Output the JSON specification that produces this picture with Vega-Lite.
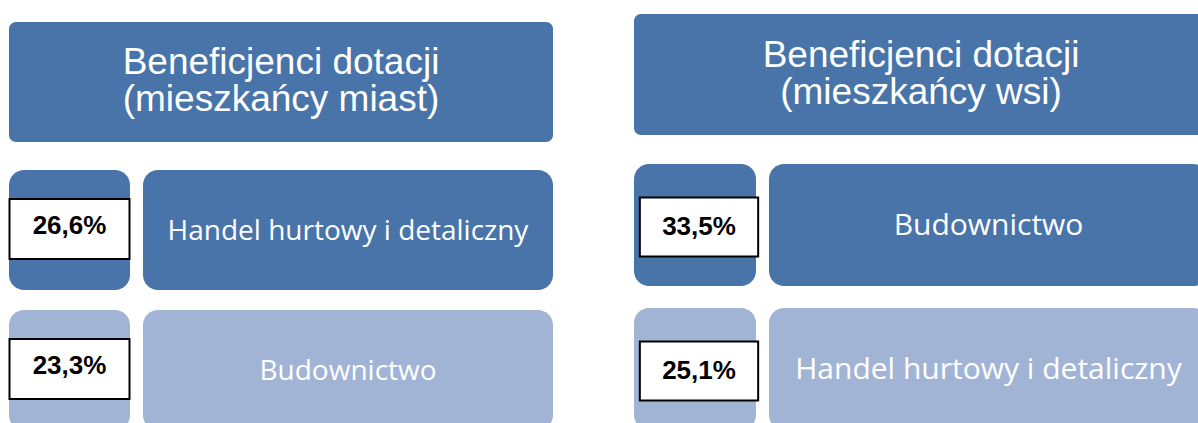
{
  "$schema": "https://vega.github.io/schema/vega-lite/v6.json",
  "padding": 0,
  "background": "white",
  "bounds": "flush",
  "spacing": 0,
  "config": {
    "view": {"stroke": null},
    "locale": {"number": {"decimal": ",", "thousands": " ", "grouping": [3], "currency": ["", " zł"]}}
  },
  "datasets": {
    "headers": [
      {"group": "miasta", "title": "Beneficjenci dotacji\n(mieszkańcy miast)"},
      {"group": "wsi", "title": "Beneficjenci dotacji\n(mieszkańcy wsi)"}
    ],
    "sectors": [
      {"group": "miasta", "rank": 1, "sector": "Handel hurtowy i detaliczny", "share": 0.266},
      {"group": "miasta", "rank": 2, "sector": "Budownictwo", "share": 0.233},
      {"group": "wsi", "rank": 1, "sector": "Budownictwo", "share": 0.335},
      {"group": "wsi", "rank": 2, "sector": "Handel hurtowy i detaliczny", "share": 0.251}
    ]
  },
  "hconcat": [
    {
      "width": 594,
      "height": 423,
      "resolve": {"scale": {"x": "independent", "y": "independent", "color": "independent"}},
      "layer": [
        {
          "data": {"name": "headers"},
          "transform": [{"filter": "datum.group === 'miasta'"}],
          "encoding": {
            "x": {"field": "group", "type": "nominal", "axis": null, "scale": {"range": [9, 553], "padding": 0}},
            "y": {"field": "group", "type": "nominal", "axis": null, "scale": {"range": [22, 142], "padding": 0}}
          },
          "layer": [
            {"mark": {"type": "rect", "color": "#4874AA", "cornerRadius": 7, "clip": true}},
            {"mark": {"type": "text", "font": "Liberation Sans", "fontSize": 37, "lineHeight": 37, "lineBreak": "\n", "color": "white", "baseline": "alphabetic", "align": "center", "dy": -8},
             "encoding": {"text": {"field": "title", "type": "nominal"}}}
          ]
        },
        {
          "data": {"name": "sectors"},
          "transform": [{"filter": "datum.group === 'miasta'"}],
          "encoding": {
            "x": {"field": "group", "type": "nominal", "axis": null, "scale": {"range": [9, 130], "padding": 0}},
            "y": {"field": "rank", "type": "ordinal", "axis": null, "scale": {"range": [170, 430], "paddingInner": 0.1429, "paddingOuter": 0}}
          },
          "layer": [
            {"mark": {"type": "rect", "cornerRadius": 15, "clip": true},
             "encoding": {"color": {"field": "rank", "type": "ordinal", "legend": null, "scale": {"domain": [1, 2], "range": ["#4874AA", "#A2B4D5"]}}}},
            {"mark": {"type": "point", "shape": "M-1,-0.5H1V0.5H-1Z", "size": 14400, "filled": true, "fill": "white", "stroke": "black", "strokeWidth": 2, "opacity": 1, "yOffset": -1}},
            {"mark": {"type": "text", "font": "Liberation Sans", "fontWeight": "bold", "fontSize": 26, "color": "black", "baseline": "alphabetic", "align": "center", "dy": 4},
             "encoding": {"text": {"field": "share", "type": "quantitative", "format": ".1%"}}}
          ]
        },
        {
          "data": {"name": "sectors"},
          "transform": [{"filter": "datum.group === 'miasta'"}],
          "encoding": {
            "x": {"field": "group", "type": "nominal", "axis": null, "scale": {"range": [143, 553], "padding": 0}},
            "y": {"field": "rank", "type": "ordinal", "axis": null, "scale": {"range": [170, 430], "paddingInner": 0.1429, "paddingOuter": 0}}
          },
          "layer": [
            {"mark": {"type": "rect", "cornerRadius": 15, "clip": true},
             "encoding": {"color": {"field": "rank", "type": "ordinal", "legend": null, "scale": {"domain": [1, 2], "range": ["#4874AA", "#A2B4D5"]}}}},
            {"mark": {"type": "text", "font": "Open Sans", "fontSize": 28, "color": "white", "baseline": "alphabetic", "align": "center", "dy": 10},
             "encoding": {"text": {"field": "sector", "type": "nominal"}}}
          ]
        }
      ]
    },
    {
      "width": 604,
      "height": 423,
      "resolve": {"scale": {"x": "independent", "y": "independent", "color": "independent"}},
      "layer": [
        {
          "data": {"name": "headers"},
          "transform": [{"filter": "datum.group === 'wsi'"}],
          "encoding": {
            "x": {"field": "group", "type": "nominal", "axis": null, "scale": {"range": [40, 614], "padding": 0}},
            "y": {"field": "group", "type": "nominal", "axis": null, "scale": {"range": [14, 135], "padding": 0}}
          },
          "layer": [
            {"mark": {"type": "rect", "color": "#4874AA", "cornerRadius": 7, "clip": true}},
            {"mark": {"type": "text", "font": "Liberation Sans", "fontSize": 37, "lineHeight": 37, "lineBreak": "\n", "color": "white", "baseline": "alphabetic", "align": "center", "dy": -8},
             "encoding": {"text": {"field": "title", "type": "nominal"}}}
          ]
        },
        {
          "data": {"name": "sectors"},
          "transform": [{"filter": "datum.group === 'wsi'"}],
          "encoding": {
            "x": {"field": "group", "type": "nominal", "axis": null, "scale": {"range": [40, 162], "padding": 0}},
            "y": {"field": "rank", "type": "ordinal", "axis": null, "scale": {"range": [164, 430], "paddingInner": 0.1528, "paddingOuter": 0}}
          },
          "layer": [
            {"mark": {"type": "rect", "cornerRadius": 15, "clip": true},
             "encoding": {"color": {"field": "rank", "type": "ordinal", "legend": null, "scale": {"domain": [1, 2], "range": ["#4874AA", "#A2B4D5"]}}}},
            {"mark": {"type": "point", "shape": "M-1,-0.5H1V0.5H-1Z", "size": 14000, "filled": true, "fill": "white", "stroke": "black", "strokeWidth": 2, "opacity": 1, "yOffset": 2, "xOffset": 4}},
            {"mark": {"type": "text", "font": "Liberation Sans", "fontWeight": "bold", "fontSize": 26, "color": "black", "baseline": "alphabetic", "align": "center", "dy": 10, "dx": 4},
             "encoding": {"text": {"field": "share", "type": "quantitative", "format": ".1%"}}}
          ]
        },
        {
          "data": {"name": "sectors"},
          "transform": [{"filter": "datum.group === 'wsi'"}],
          "encoding": {
            "x": {"field": "group", "type": "nominal", "axis": null, "scale": {"range": [175, 614], "padding": 0}},
            "y": {"field": "rank", "type": "ordinal", "axis": null, "scale": {"range": [164, 430], "paddingInner": 0.1528, "paddingOuter": 0}}
          },
          "layer": [
            {"mark": {"type": "rect", "cornerRadius": 15, "clip": true},
             "encoding": {"color": {"field": "rank", "type": "ordinal", "legend": null, "scale": {"domain": [1, 2], "range": ["#4874AA", "#A2B4D5"]}}}},
            {"mark": {"type": "text", "font": "Open Sans", "fontSize": 30, "color": "white", "baseline": "alphabetic", "align": "center", "dy": 10},
             "encoding": {"text": {"field": "sector", "type": "nominal"}}}
          ]
        }
      ]
    }
  ]
}
